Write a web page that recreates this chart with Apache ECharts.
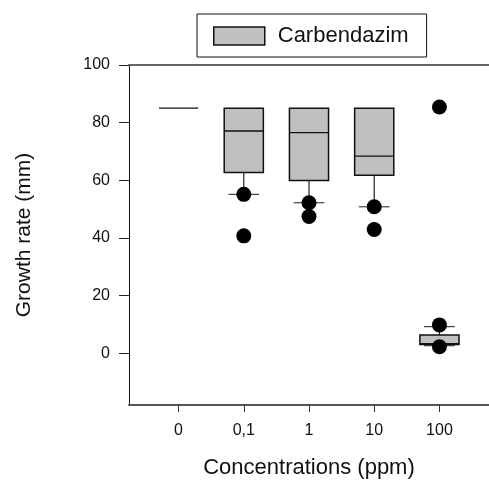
<!DOCTYPE html>
<html>
<head>
<meta charset="utf-8">
<script src="https://cdn.jsdelivr.net/npm/echarts@6/dist/echarts.min.js"></script>
<style>
html,body{margin:0;padding:0;background:#fff;}
#chart{width:489px;height:489px;}
</style>
</head>
<body>
<div id="chart"></div>
<script>
// ---- data ----
const categories = ['0', '0,1', '1', '10', '100'];
const categoryPos = [1, 2, 3, 4, 5];
const whiskerLow = [85, 55.1, 52.2, 50.8, 2.6];
const q1 = [85, 62.7, 59.9, 61.7, 3.0];
const median = [85, 77.1, 76.5, 68.4, 3.3];
const q3 = [85, 85, 85, 85, 6.3];
const whiskerHigh = [85, 85, 85, 85, 9.2];
const outlierPos = [2, 2, 3, 3, 4, 4, 5, 5, 5];
const outlierVal = [55.1, 40.7, 52.2, 47.4, 50.8, 42.9, 85.4, 9.8, 2.2];
const yTicks = [0, 20, 40, 60, 80, 100];
const seriesName = 'Carbendazim';

const FONT = '"Liberation Sans", Arial, sans-serif';

const boxData = categoryPos.map((p, i) => [p, whiskerLow[i], q1[i], median[i], q3[i], whiskerHigh[i]]);
const outlierData = outlierPos.map((p, i) => [p, outlierVal[i]]);

const chart = echarts.init(document.getElementById('chart'), null, {renderer: 'canvas'});

const option = {
  animation: false,
  backgroundColor: '#fff',
  textStyle: {fontFamily: FONT},
  legend: {
    left: 197,
    top: 14,
    orient: 'horizontal',
    borderColor: '#111',
    borderWidth: 1,
    padding: [11, 18, 10, 16],
    itemWidth: 51,
    itemHeight: 18,
    data: [{name: seriesName, icon: 'rect', itemStyle: {color: '#c0c0c0', borderColor: '#111', borderWidth: 1.5}}],
    textStyle: {fontSize: 22, color: '#111', fontFamily: FONT, padding: [0, 0, 0, 8]},
    selectedMode: false
  },
  grid: {left: 129, top: 65, bottom: 84, right: -2, containLabel: false},
  xAxis: [{
    type: 'value',
    min: 0.24,
    max: 5.76,
    splitLine: {show: false},
    axisLine: {show: true, onZero: false, lineStyle: {color: '#555', width: 2}},
    axisTick: {show: true, customValues: categoryPos, length: 7, lineStyle: {color: '#333', width: 1}},
    axisLabel: {
      customValues: categoryPos,
      formatter: v => categories[Math.round(v) - 1],
      fontSize: 16, color: '#111', margin: 18, fontFamily: FONT
    },
    name: 'Concentrations (ppm)',
    nameLocation: 'middle',
    nameGap: 52,
    nameTextStyle: {fontSize: 22, color: '#111', fontFamily: FONT}
  }, {
    type: 'value',
    position: 'top',
    min: 0.24,
    max: 5.76,
    splitLine: {show: false},
    axisLine: {show: true, onZero: false, lineStyle: {color: '#666', width: 2}},
    axisTick: {show: false},
    axisLabel: {show: false}
  }],
  yAxis: {
    type: 'value',
    min: -18,
    max: 100,
    splitLine: {show: false},
    axisLine: {show: true, onZero: false, lineStyle: {color: '#111', width: 1}},
    axisTick: {show: true, customValues: yTicks, length: 10, lineStyle: {color: '#222', width: 1}},
    axisLabel: {customValues: yTicks, fontSize: 16, color: '#111', margin: 19, fontFamily: FONT},
    name: 'Growth rate (mm)',
    nameLocation: 'middle',
    nameGap: 94,
    nameTextStyle: {fontSize: 21, color: '#111', fontFamily: FONT}
  },
  series: [{
    name: seriesName,
    type: 'custom',
    xAxisIndex: 0,
    itemStyle: {color: '#c0c0c0'},
    encode: {x: 0, y: [1, 2, 3, 4, 5]},
    data: boxData,
    renderItem: function (params, api) {
      const x = api.value(0);
      const lo = api.coord([x, api.value(1)]);
      const b1 = api.coord([x, api.value(2)]);
      const md = api.coord([x, api.value(3)]);
      const b3 = api.coord([x, api.value(4)]);
      const hi = api.coord([x, api.value(5)]);
      const unit = api.size([1, 0])[0];
      const bw = unit * 0.6;
      const cw = unit * 0.47;
      const cx = lo[0];
      const children = [];
      const wStyle = {stroke: '#222', lineWidth: 1.2};
      const cStyle = {stroke: '#444', lineWidth: 1.2};
      if (lo[1] > b1[1] + 0.5) {
        children.push({type: 'line', shape: {x1: cx, y1: b1[1], x2: cx, y2: lo[1]}, style: wStyle});
        children.push({type: 'line', shape: {x1: cx - cw / 2, y1: lo[1], x2: cx + cw / 2, y2: lo[1]}, style: cStyle});
      }
      if (hi[1] < b3[1] - 0.5) {
        children.push({type: 'line', shape: {x1: cx, y1: b3[1], x2: cx, y2: hi[1]}, style: wStyle});
        children.push({type: 'line', shape: {x1: cx - cw / 2, y1: hi[1], x2: cx + cw / 2, y2: hi[1]}, style: cStyle});
      }
      const h = b1[1] - b3[1];
      if (h > 0.5) {
        children.push({type: 'rect', shape: {x: cx - bw / 2, y: b3[1], width: bw, height: h},
          style: {fill: '#c0c0c0', stroke: '#111', lineWidth: 1.5}});
      }
      children.push({type: 'line', shape: {x1: cx - bw / 2, y1: md[1], x2: cx + bw / 2, y2: md[1]},
        style: {stroke: '#111', lineWidth: 1.3}});
      return {type: 'group', children: children};
    },
    z: 2
  }, {
    name: 'outliers',
    type: 'scatter',
    xAxisIndex: 0,
    symbol: 'circle',
    symbolSize: 15,
    itemStyle: {color: '#000', opacity: 1},
    data: outlierData,
    z: 3
  }]
};
chart.setOption(option);
</script>
</body>
</html>
